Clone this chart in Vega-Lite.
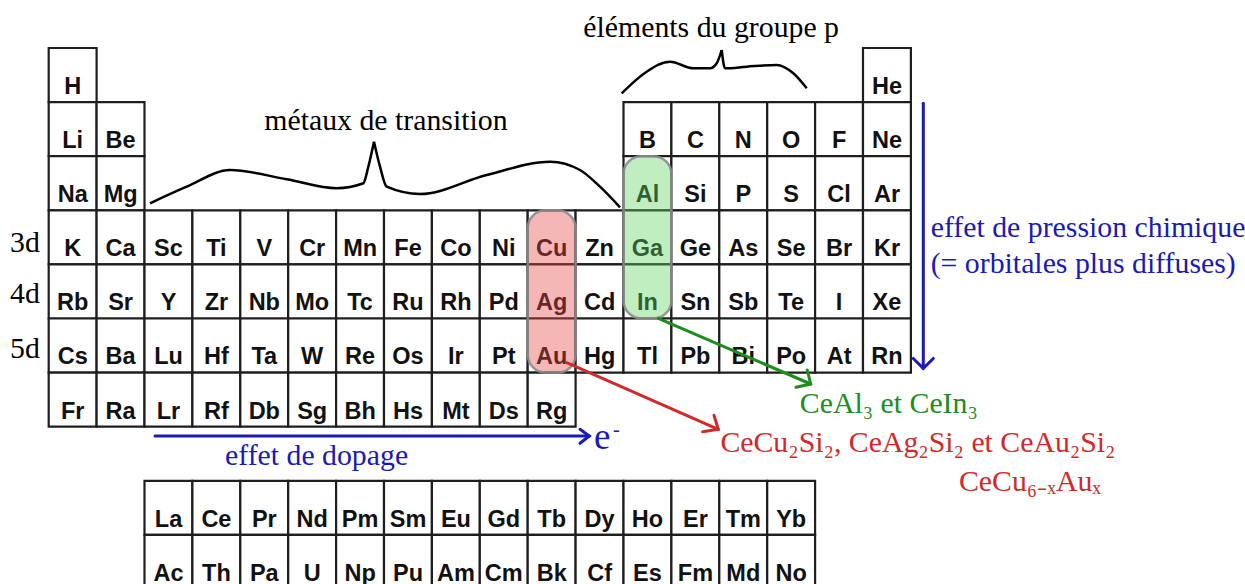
{
"$schema":"https://vega.github.io/schema/vega-lite/v6.json",
"width":1245,"height":584,"padding":0,
"autosize":{"type":"none"},
"background":"white",
"config":{"view":{"stroke":null}},
"datasets":{
"elements":[
{"sym":"H","col":1,"row":1},{"sym":"He","col":18,"row":1},
{"sym":"Li","col":1,"row":2},{"sym":"Be","col":2,"row":2},{"sym":"B","col":13,"row":2},{"sym":"C","col":14,"row":2},{"sym":"N","col":15,"row":2},{"sym":"O","col":16,"row":2},{"sym":"F","col":17,"row":2},{"sym":"Ne","col":18,"row":2},
{"sym":"Na","col":1,"row":3},{"sym":"Mg","col":2,"row":3},{"sym":"Al","col":13,"row":3},{"sym":"Si","col":14,"row":3},{"sym":"P","col":15,"row":3},{"sym":"S","col":16,"row":3},{"sym":"Cl","col":17,"row":3},{"sym":"Ar","col":18,"row":3},
{"sym":"K","col":1,"row":4},{"sym":"Ca","col":2,"row":4},{"sym":"Sc","col":3,"row":4},{"sym":"Ti","col":4,"row":4},{"sym":"V","col":5,"row":4},{"sym":"Cr","col":6,"row":4},{"sym":"Mn","col":7,"row":4},{"sym":"Fe","col":8,"row":4},{"sym":"Co","col":9,"row":4},{"sym":"Ni","col":10,"row":4},{"sym":"Cu","col":11,"row":4},{"sym":"Zn","col":12,"row":4},{"sym":"Ga","col":13,"row":4},{"sym":"Ge","col":14,"row":4},{"sym":"As","col":15,"row":4},{"sym":"Se","col":16,"row":4},{"sym":"Br","col":17,"row":4},{"sym":"Kr","col":18,"row":4},
{"sym":"Rb","col":1,"row":5},{"sym":"Sr","col":2,"row":5},{"sym":"Y","col":3,"row":5},{"sym":"Zr","col":4,"row":5},{"sym":"Nb","col":5,"row":5},{"sym":"Mo","col":6,"row":5},{"sym":"Tc","col":7,"row":5},{"sym":"Ru","col":8,"row":5},{"sym":"Rh","col":9,"row":5},{"sym":"Pd","col":10,"row":5},{"sym":"Ag","col":11,"row":5},{"sym":"Cd","col":12,"row":5},{"sym":"In","col":13,"row":5},{"sym":"Sn","col":14,"row":5},{"sym":"Sb","col":15,"row":5},{"sym":"Te","col":16,"row":5},{"sym":"I","col":17,"row":5},{"sym":"Xe","col":18,"row":5},
{"sym":"Cs","col":1,"row":6},{"sym":"Ba","col":2,"row":6},{"sym":"Lu","col":3,"row":6},{"sym":"Hf","col":4,"row":6},{"sym":"Ta","col":5,"row":6},{"sym":"W","col":6,"row":6},{"sym":"Re","col":7,"row":6},{"sym":"Os","col":8,"row":6},{"sym":"Ir","col":9,"row":6},{"sym":"Pt","col":10,"row":6},{"sym":"Au","col":11,"row":6},{"sym":"Hg","col":12,"row":6},{"sym":"Tl","col":13,"row":6},{"sym":"Pb","col":14,"row":6},{"sym":"Bi","col":15,"row":6},{"sym":"Po","col":16,"row":6},{"sym":"At","col":17,"row":6},{"sym":"Rn","col":18,"row":6},
{"sym":"Fr","col":1,"row":7},{"sym":"Ra","col":2,"row":7},{"sym":"Lr","col":3,"row":7},{"sym":"Rf","col":4,"row":7},{"sym":"Db","col":5,"row":7},{"sym":"Sg","col":6,"row":7},{"sym":"Bh","col":7,"row":7},{"sym":"Hs","col":8,"row":7},{"sym":"Mt","col":9,"row":7},{"sym":"Ds","col":10,"row":7},{"sym":"Rg","col":11,"row":7},
{"sym":"La","col":3,"row":9},{"sym":"Ce","col":4,"row":9},{"sym":"Pr","col":5,"row":9},{"sym":"Nd","col":6,"row":9},{"sym":"Pm","col":7,"row":9},{"sym":"Sm","col":8,"row":9},{"sym":"Eu","col":9,"row":9},{"sym":"Gd","col":10,"row":9},{"sym":"Tb","col":11,"row":9},{"sym":"Dy","col":12,"row":9},{"sym":"Ho","col":13,"row":9},{"sym":"Er","col":14,"row":9},{"sym":"Tm","col":15,"row":9},{"sym":"Yb","col":16,"row":9},
{"sym":"Ac","col":3,"row":10},{"sym":"Th","col":4,"row":10},{"sym":"Pa","col":5,"row":10},{"sym":"U","col":6,"row":10},{"sym":"Np","col":7,"row":10},{"sym":"Pu","col":8,"row":10},{"sym":"Am","col":9,"row":10},{"sym":"Cm","col":10,"row":10},{"sym":"Bk","col":11,"row":10},{"sym":"Cf","col":12,"row":10},{"sym":"Es","col":13,"row":10},{"sym":"Fm","col":14,"row":10},{"sym":"Md","col":15,"row":10},{"sym":"No","col":16,"row":10}
],
"highlights":[
{"col":11,"row":4,"row2":6,"ink":"red"},
{"col":13,"row":3,"row2":5,"ink":"green"}
],
"braces":[
{"id":"tbL","seq":1,"col":3.115,"row":3.871},{"id":"tbL","seq":2,"col":3.881,"row":3.564},{"id":"tbL","seq":3,"col":4.785,"row":3.255},{"id":"tbL","seq":4,"col":5.969,"row":3.427},{"id":"tbL","seq":5,"col":7.013,"row":3.593},{"id":"tbL","seq":6,"col":7.568,"row":3.501},{"id":"tbL","seq":7,"col":7.673,"row":3.194},{"id":"tbL","seq":8,"col":7.791,"row":2.732},
{"id":"tbR","seq":1,"col":7.791,"row":2.732},{"id":"tbR","seq":2,"col":7.917,"row":3.194},{"id":"tbR","seq":3,"col":8.056,"row":3.564},{"id":"tbR","seq":4,"col":8.752,"row":3.699},{"id":"tbR","seq":5,"col":10.144,"row":3.348},{"id":"tbR","seq":6,"col":11.466,"row":3.102},{"id":"tbR","seq":7,"col":12.092,"row":3.255},{"id":"tbR","seq":8,"col":12.509,"row":3.564},{"id":"tbR","seq":9,"col":12.927,"row":3.945},
{"id":"pbL","seq":1,"col":12.962,"row":1.837},{"id":"pbL","seq":2,"col":13.484,"row":1.438},{"id":"pbL","seq":3,"col":13.971,"row":1.253},{"id":"pbL","seq":4,"col":14.457,"row":1.375},{"id":"pbL","seq":5,"col":14.806,"row":1.375},{"id":"pbL","seq":6,"col":14.946,"row":1.283},{"id":"pbL","seq":7,"col":15.05,"row":1.037},
{"id":"pbR","seq":1,"col":15.05,"row":1.037},{"id":"pbR","seq":2,"col":15.119,"row":1.375},{"id":"pbR","seq":3,"col":15.572,"row":1.346},{"id":"pbR","seq":4,"col":16.198,"row":1.314},{"id":"pbR","seq":5,"col":16.545,"row":1.468},{"id":"pbR","seq":6,"col":16.825,"row":1.745}
],
"arrows":[
{"id":"bvS","seq":1,"col":19.259,"row":2.022,"ink":"blue"},{"id":"bvS","seq":2,"col":19.259,"row":6.921,"ink":"blue"},
{"id":"bvH","seq":1,"col":19.05,"row":6.739,"ink":"blue"},{"id":"bvH","seq":2,"col":19.259,"row":6.921,"ink":"blue"},{"id":"bvH","seq":3,"col":19.468,"row":6.739,"ink":"blue"},
{"id":"bhS","seq":1,"col":3.219,"row":8.172,"ink":"blue"},{"id":"bhS","seq":2,"col":12.286,"row":8.172,"ink":"blue"},
{"id":"bhH","seq":1,"col":12.092,"row":8.048,"ink":"blue"},{"id":"bhH","seq":2,"col":12.286,"row":8.172,"ink":"blue"},{"id":"bhH","seq":3,"col":12.092,"row":8.306,"ink":"blue"},
{"id":"gS","seq":1,"col":13.727,"row":5.996,"ink":"green"},{"id":"gS","seq":2,"col":16.908,"row":7.211,"ink":"green"},
{"id":"gH","seq":1,"col":16.837,"row":6.952,"ink":"green"},{"id":"gH","seq":2,"col":16.908,"row":7.211,"ink":"green"},{"id":"gH","seq":3,"col":16.601,"row":7.272,"ink":"green"},
{"id":"rS","seq":1,"col":11.814,"row":6.817,"ink":"red"},{"id":"rS","seq":2,"col":14.979,"row":8.048,"ink":"red"},
{"id":"rH","seq":1,"col":14.889,"row":7.789,"ink":"red"},{"id":"rH","seq":2,"col":14.979,"row":8.048,"ink":"red"},{"id":"rH","seq":3,"col":14.653,"row":8.092,"ink":"red"}
],
"labels":[
{"label":"éléments du groupe p","col":12.161,"row":0.791,"ink":"black"},
{"label":"métaux de transition","col":5.501,"row":2.516,"ink":"black"},
{"label":"3d","col":0.192,"row":4.765,"ink":"black"},
{"label":"4d","col":0.192,"row":5.719,"ink":"black"},
{"label":"5d","col":0.192,"row":6.736,"ink":"black"},
{"label":"effet de pression chimique","col":19.413,"row":4.488,"ink":"blue"},
{"label":"(= orbitales plus diffuses)","col":19.413,"row":5.165,"ink":"blue"},
{"label":"effet de dopage","col":4.681,"row":8.708,"ink":"blue"},
{"label":"CeAl₃ et CeIn₃","col":16.681,"row":7.747,"ink":"green"},
{"label":"CeCu₂Si₂, CeAg₂Si₂ et CeAu₂Si₂","col":15.023,"row":8.468,"ink":"red"},
{"label":"CeCu₆₋ₓAuₓ","col":20.004,"row":9.189,"ink":"red"}
],
"electron":[{"label":"e","col":12.384,"row":8.418,"ink":"blue"}],
"charge":[{"label":"-","col":12.781,"row":8.166,"ink":"blue"}]
},
"encoding":{
"x":{"field":"col","type":"quantitative","scale":{"domain":[-0.0167,25.975],"zero":false,"nice":false},"axis":null},
"y":{"field":"row","type":"quantitative","scale":{"domain":[0.1128,10.908],"zero":false,"nice":false,"reverse":true},"axis":null}
},
"layer":[
{"data":{"name":"elements"},"mark":{"type":"rect","x2Offset":47.9,"y2Offset":54.1,"fill":"white","stroke":"#1e1e1e","strokeWidth":2.2},"encoding":{"x2":{"field":"col"},"y2":{"field":"row"}}},
{"data":{"name":"elements"},"mark":{"type":"text","font":"Liberation Sans","fontWeight":"bold","fontSize":23.5,"dx":24,"dy":46,"align":"center","baseline":"alphabetic","fill":"#111111"},"encoding":{"text":{"field":"sym"}}},
{"data":{"name":"highlights"},"mark":{"type":"rect","x2Offset":47.9,"y2Offset":54.1,"cornerRadius":18,"fillOpacity":0.4,"stroke":"#8c8c8c","strokeWidth":2.5,"strokeOpacity":0.9},"encoding":{"x2":{"field":"col"},"y2":{"field":"row2"},"fill":{"field":"ink","type":"nominal","scale":{"domain":["red","green"],"range":["#e64848","#61d461"]},"legend":null}}},
{"data":{"name":"braces"},"mark":{"type":"line","interpolate":"monotone","stroke":"black","strokeWidth":2.5},"encoding":{"detail":{"field":"id"},"order":{"field":"seq","type":"quantitative"}}},
{"data":{"name":"arrows"},"mark":{"type":"line","interpolate":"linear","strokeWidth":3,"strokeCap":"round","strokeJoin":"miter"},"encoding":{"detail":{"field":"id"},"order":{"field":"seq","type":"quantitative"},"color":{"field":"ink","type":"nominal","scale":{"domain":["black","blue","green","red"],"range":["#000000","#1a1ab4","#1e8c1e","#d02a2a"]},"legend":null}}},
{"data":{"name":"labels"},"mark":{"type":"text","font":"Liberation Serif","fontSize":29.8,"align":"left","baseline":"alphabetic"},"encoding":{"text":{"field":"label"},"color":{"field":"ink","type":"nominal","scale":{"domain":["black","blue","green","red"],"range":["#000000","#1a1ab4","#1e8c1e","#d02a2a"]},"legend":null}}},
{"data":{"name":"electron"},"mark":{"type":"text","font":"Liberation Serif","fontSize":37,"align":"left","baseline":"alphabetic"},"encoding":{"text":{"field":"label"},"color":{"field":"ink","type":"nominal","scale":{"domain":["black","blue","green","red"],"range":["#000000","#1a1ab4","#1e8c1e","#d02a2a"]},"legend":null}}},
{"data":{"name":"charge"},"mark":{"type":"text","font":"Liberation Serif","fontSize":20,"align":"left","baseline":"alphabetic"},"encoding":{"text":{"field":"label"},"color":{"field":"ink","type":"nominal","scale":{"domain":["black","blue","green","red"],"range":["#000000","#1a1ab4","#1e8c1e","#d02a2a"]},"legend":null}}}
]
}
